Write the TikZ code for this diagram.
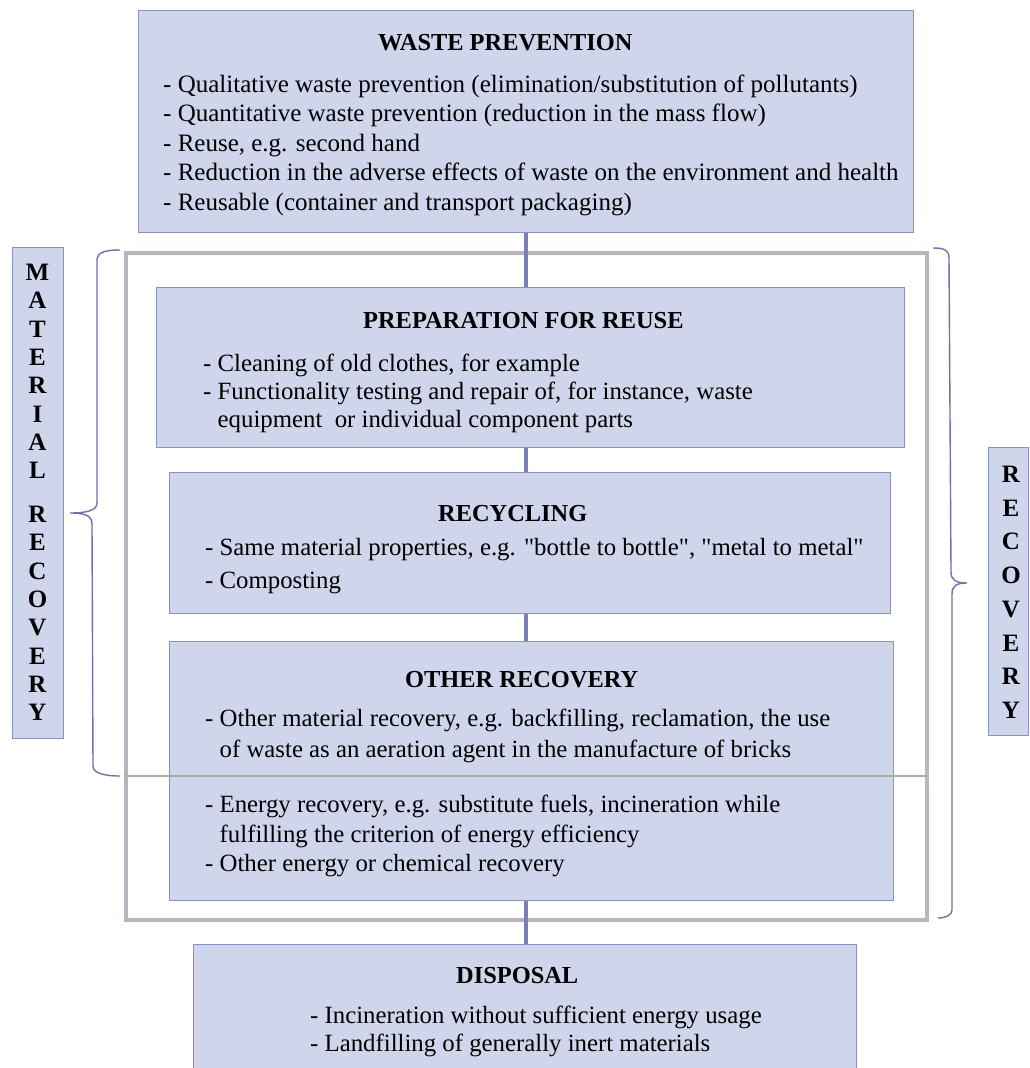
\documentclass[tikz,border=0pt]{standalone}
\usepackage{fontspec}
\setmainfont{Liberation Serif}
\newfontfamily\plainserif{Liberation Serif}
\definecolor{boxfill}{HTML}{CFD5EA}
\definecolor{boxline}{HTML}{8A8FC4}
\definecolor{frameg}{HTML}{BEB2C0}
\definecolor{connc}{HTML}{7B7EB8}
\definecolor{bracec}{HTML}{6E71AE}
\definecolor{greenl}{HTML}{9CB4A0}
\begin{document}
\begin{tikzpicture}[x=1pt,y=-1pt,
  stagebox/.style={draw=boxline, fill=boxfill, line width=1.3pt, inner sep=0pt, anchor=north west, rectangle},
  framebox/.style={draw=frameg, line width=4pt, inner sep=0pt, anchor=north west, rectangle},
  conn/.style={draw=connc, line width=4pt},
  bracel/.style={draw=bracec, line width=1.4pt},
  splitl/.style={draw=greenl, line width=1.5pt},
  ttl/.style={anchor=base west, inner sep=0pt, font=\fontsize{24.4}{28}\selectfont\bfseries},
  bodytop/.style={anchor=base west, inner sep=0pt, font=\fontsize{25}{29}\selectfont},
  body/.style={anchor=base west, inner sep=0pt, font=\fontsize{24.8}{28}\selectfont},
  letter/.style={anchor=base, inner sep=0pt, font=\fontsize{25}{28}\selectfont\bfseries}]
\useasboundingbox (0,0) rectangle (1030,1068);
\fill[white] (0,0) rectangle (1030,1068);

% outer frame
\node[framebox, minimum width=801pt, minimum height=667pt] (frame) at (124,251) {};

\begin{scope}
\clip (0,0) rectangle (1030,1068);
% boxes
\node[stagebox, minimum width=775pt, minimum height=222pt] (wp) at (138,10) {};
\node[stagebox, minimum width=748pt, minimum height=160pt] (prep) at (156,287) {};
\node[stagebox, minimum width=721pt, minimum height=141pt] (recy) at (169,472) {};
\node[stagebox, minimum width=724pt, minimum height=259pt] (other) at (169,641) {};
\node[stagebox, minimum width=663pt, minimum height=140pt] (disp) at (193,944) {};
\node[stagebox, minimum width=51pt, minimum height=491pt] (mlbox) at (12,247) {};
\node[stagebox, minimum width=40pt, minimum height=288pt] (rbox) at (988,447) {};
\end{scope}

% split line in other recovery
\coordinate (split) at (0,776);
\draw[splitl] (frame.west |- split) -- (frame.east |- split);

% connectors
\coordinate (spine) at (526,0);
\draw[conn] (wp.south -| spine) -- (prep.north -| spine);
\draw[conn] (prep.south -| spine) -- (recy.north -| spine);
\draw[conn] (recy.south -| spine) -- (other.north -| spine);
\draw[conn] (other.south -| spine) -- (disp.north -| spine);

% braces
\draw[bracel] (120,250) .. controls (106,250) and (97,252) .. (97,260) -- (97,503)
  .. controls (97,510) and (88,513) .. (70,513)
  .. controls (86,513) and (92,516) .. (92,524) -- (93,766)
  .. controls (93,773) and (104,776) .. (120,776);
\draw[bracel] (933,248) .. controls (944,248) and (949,250) .. (949,258) -- (951,572)
  .. controls (951,580) and (956,583) .. (967,583)
  .. controls (956,583) and (952,586) .. (952,594) -- (952,910)
  .. controls (952,915) and (946,918) .. (938,918);

% waste prevention
\node[ttl] (wp-t) at (378,50) {WASTE PREVENTION};
\node[bodytop] (wp-1) at (163,92) {- Qualitative waste prevention (elimination/substitution of pollutants)};
\node[bodytop] (wp-2) at (163,121.5) {- Quantitative waste prevention (reduction in the mass flow)};
\node[bodytop] (wp-3) at (163,151) {- Reuse, e.g. second hand};
\node[bodytop] (wp-4) at (163,180.5) {- Reduction in the adverse effects of waste on the environment and health};
\node[bodytop] (wp-5) at (163,210) {- Reusable (container and transport packaging)};

% preparation for reuse
\node[ttl] (prep-t) at (363,328) {PREPARATION FOR REUSE};
\node[body] (prep-1) at (203,371) {- Cleaning of old clothes, for example};
\node[body] (prep-2) at (203,399) {- Functionality testing and repair of, for instance, waste};
\node[body] (prep-3) at (217.5,427) {equipment\ \ or individual component parts};

% recycling
\node[ttl] (recy-t) at (438,521) {RECYCLING};
\node[body, font=\fontsize{24.8}{28}\selectfont\plainserif] (recy-1) at (205,555) {- Same material properties, e.g. "bottle to bottle", "metal to metal"};
\node[body] (recy-2) at (205,588) {- Composting};

% other recovery
\node[ttl] (other-t) at (405,687) {OTHER RECOVERY};
\node[body] (other-1) at (205,726) {- Other material recovery, e.g. backfilling, reclamation, the use};
\node[body] (other-2) at (219.5,757) {of waste as an aeration agent in the manufacture of bricks};
\node[body] (other-3) at (205,812) {- Energy recovery, e.g. substitute fuels, incineration while};
\node[body] (other-4) at (219.5,842) {fulfilling the criterion of energy efficiency};
\node[body] (other-5) at (205,871) {- Other energy or chemical recovery};

% disposal
\node[ttl] (disp-t) at (456,983) {DISPOSAL};
\node[body] (disp-1) at (310,1023) {- Incineration without sufficient energy usage};
\node[body] (disp-2) at (310,1051) {- Landfilling of generally inert materials};

% vertical labels
\foreach \ch [count=\i] in {M,A,T,E,R,I,A,L}
  \node[letter] (ml-\i) at (37.5,{272+(\i-1)*28.3+8.5}) {\ch};
\foreach \ch [count=\i] in {R,E,C,O,V,E,R,Y}
  \node[letter] (mr-\i) at (37.5,{514+(\i-1)*28.3+8.5}) {\ch};
\foreach \ch [count=\i] in {R,E,C,O,V,E,R,Y}
  \node[letter] (rr-\i) at (1011,{474+(\i-1)*33.7+8.5}) {\ch};
\end{tikzpicture}
\end{document}
